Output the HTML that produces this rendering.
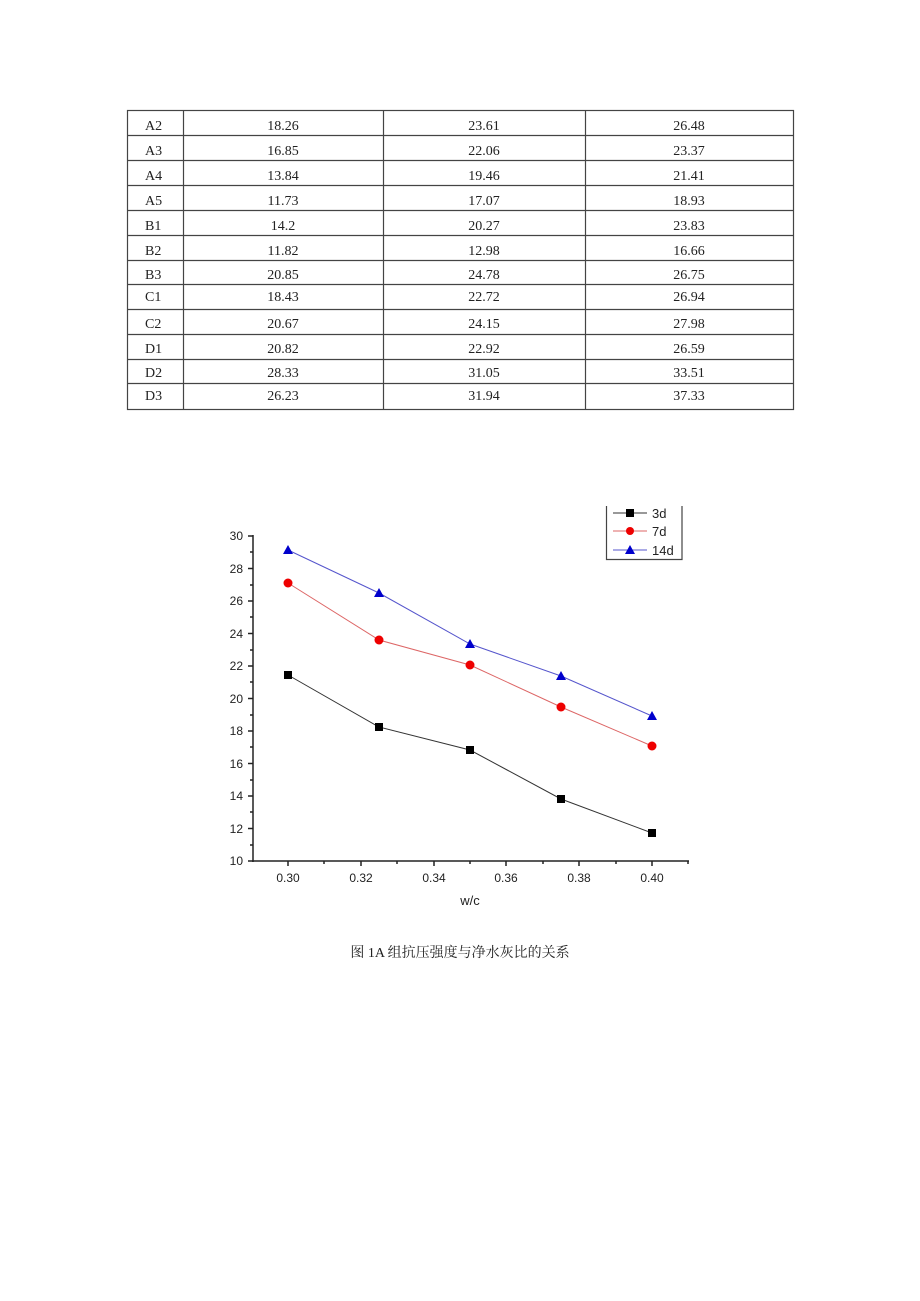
<!DOCTYPE html>
<html><head><meta charset="utf-8"><style>
body{margin:0;background:#fff;width:920px;height:1301px;position:relative;overflow:hidden}
.t{position:absolute;font-family:"Liberation Serif","Noto Serif CJK SC",serif;font-size:14px;color:#222}
</style></head><body>
<svg width="920" height="1301" style="position:absolute;left:0;top:0" font-family="Liberation Sans, sans-serif">
<g stroke="#444" stroke-width="1.2" fill="none">
<rect x="127.5" y="110.5" width="666" height="299"/>
<line x1="183.5" y1="110" x2="183.5" y2="409"/>
<line x1="383.5" y1="110" x2="383.5" y2="409"/>
<line x1="585.5" y1="110" x2="585.5" y2="409"/>
<line x1="127" y1="135.5" x2="793" y2="135.5"/>
<line x1="127" y1="160.5" x2="793" y2="160.5"/>
<line x1="127" y1="185.5" x2="793" y2="185.5"/>
<line x1="127" y1="210.5" x2="793" y2="210.5"/>
<line x1="127" y1="235.5" x2="793" y2="235.5"/>
<line x1="127" y1="260.5" x2="793" y2="260.5"/>
<line x1="127" y1="284.5" x2="793" y2="284.5"/>
<line x1="127" y1="309.5" x2="793" y2="309.5"/>
<line x1="127" y1="334.5" x2="793" y2="334.5"/>
<line x1="127" y1="359.5" x2="793" y2="359.5"/>
<line x1="127" y1="383.5" x2="793" y2="383.5"/>
</g>
<g font-family="Liberation Serif, serif" font-size="14" fill="#222" text-anchor="middle">
<g text-anchor="start">
<text x="145" y="130">A2</text><text x="145" y="155">A3</text><text x="145" y="180">A4</text><text x="145" y="205">A5</text><text x="145" y="230">B1</text><text x="145" y="255">B2</text><text x="145" y="279">B3</text><text x="145" y="301">C1</text><text x="145" y="328">C2</text><text x="145" y="353">D1</text><text x="145" y="377">D2</text><text x="145" y="400">D3</text>
</g>
<text x="283" y="130">18.26</text><text x="484" y="130">23.61</text><text x="689" y="130">26.48</text>
<text x="283" y="155">16.85</text><text x="484" y="155">22.06</text><text x="689" y="155">23.37</text>
<text x="283" y="180">13.84</text><text x="484" y="180">19.46</text><text x="689" y="180">21.41</text>
<text x="283" y="205">11.73</text><text x="484" y="205">17.07</text><text x="689" y="205">18.93</text>
<text x="283" y="230">14.2</text><text x="484" y="230">20.27</text><text x="689" y="230">23.83</text>
<text x="283" y="255">11.82</text><text x="484" y="255">12.98</text><text x="689" y="255">16.66</text>
<text x="283" y="279">20.85</text><text x="484" y="279">24.78</text><text x="689" y="279">26.75</text>
<text x="283" y="301">18.43</text><text x="484" y="301">22.72</text><text x="689" y="301">26.94</text>
<text x="283" y="328">20.67</text><text x="484" y="328">24.15</text><text x="689" y="328">27.98</text>
<text x="283" y="353">20.82</text><text x="484" y="353">22.92</text><text x="689" y="353">26.59</text>
<text x="283" y="377">28.33</text><text x="484" y="377">31.05</text><text x="689" y="377">33.51</text>
<text x="283" y="400">26.23</text><text x="484" y="400">31.94</text><text x="689" y="400">37.33</text>
</g>
<!-- chart axes -->
<g stroke="#222" stroke-width="1.5" fill="none">
<line x1="253" y1="535" x2="253" y2="862"/>
<line x1="252" y1="861" x2="689" y2="861"/>
<path d="M248 536h5M248 568.5h5M248 601h5M248 633.5h5M248 666h5M248 698.5h5M248 731h5M248 763.5h5M248 796h5M248 828.5h5M248 861h5"/>
<path d="M250 552h3M250 585h3M250 617h3M250 650h3M250 682h3M250 715h3M250 747h3M250 780h3M250 812h3M250 845h3"/>
<path d="M288 861v5M361 861v5M434 861v5M506 861v5M579 861v5M652 861v5"/>
<path d="M324 861v3M397 861v3M470 861v3M543 861v3M616 861v3M688 861v3"/>
</g>
<g font-size="12" fill="#222" text-anchor="end">
<text x="243" y="540">30</text><text x="243" y="573">28</text><text x="243" y="605">26</text><text x="243" y="638">24</text><text x="243" y="670">22</text><text x="243" y="703">20</text><text x="243" y="735">18</text><text x="243" y="768">16</text><text x="243" y="800">14</text><text x="243" y="833">12</text><text x="243" y="865">10</text>
</g>
<g font-size="12" fill="#222" text-anchor="middle">
<text x="288" y="882">0.30</text><text x="361" y="882">0.32</text><text x="434" y="882">0.34</text><text x="506" y="882">0.36</text><text x="579" y="882">0.38</text><text x="652" y="882">0.40</text>
<text x="470" y="905" font-size="13">w/c</text>
</g>
<polyline points="288,675 379,727 470,750 561,799 652,833" fill="none" stroke="#333" stroke-width="1"/>
<polyline points="288,583 379,640 470,665 561,707 652,746" fill="none" stroke="#d66" stroke-width="1"/>
<polyline points="288,550 379,593 470,644 561,676 652,716" fill="none" stroke="#55c" stroke-width="1"/>
<g fill="#000"><rect x="284" y="671" width="8" height="8"/><rect x="375" y="723" width="8" height="8"/><rect x="466" y="746" width="8" height="8"/><rect x="557" y="795" width="8" height="8"/><rect x="648" y="829" width="8" height="8"/></g>
<g fill="#e00"><circle cx="288" cy="583" r="4.5"/><circle cx="379" cy="640" r="4.5"/><circle cx="470" cy="665" r="4.5"/><circle cx="561" cy="707" r="4.5"/><circle cx="652" cy="746" r="4.5"/></g>
<g fill="#00c"><path d="M288 545l5 9h-10z"/><path d="M379 588l5 9h-10z"/><path d="M470 639l5 9h-10z"/><path d="M561 671l5 9h-10z"/><path d="M652 711l5 9h-10z"/></g>
<!-- legend -->
<path d="M606.5 506v53.5h75.5V506" fill="none" stroke="#444" stroke-width="1.2"/>
<line x1="613" y1="513" x2="647" y2="513" stroke="#333"/><rect x="626" y="509" width="8" height="8" fill="#000"/>
<line x1="613" y1="531" x2="647" y2="531" stroke="#d66"/><circle cx="630" cy="531" r="4" fill="#e00"/>
<line x1="613" y1="550" x2="647" y2="550" stroke="#55c"/><path d="M630 545l5 9h-10z" fill="#00c"/>
<g font-size="13" fill="#222"><text x="652" y="518">3d</text><text x="652" y="536">7d</text><text x="652" y="555">14d</text></g>
</svg>
<div class="t" style="left:0;width:920px;text-align:center;top:942px">图 1A 组抗压强度与净水灰比的关系</div>
</body></html>
